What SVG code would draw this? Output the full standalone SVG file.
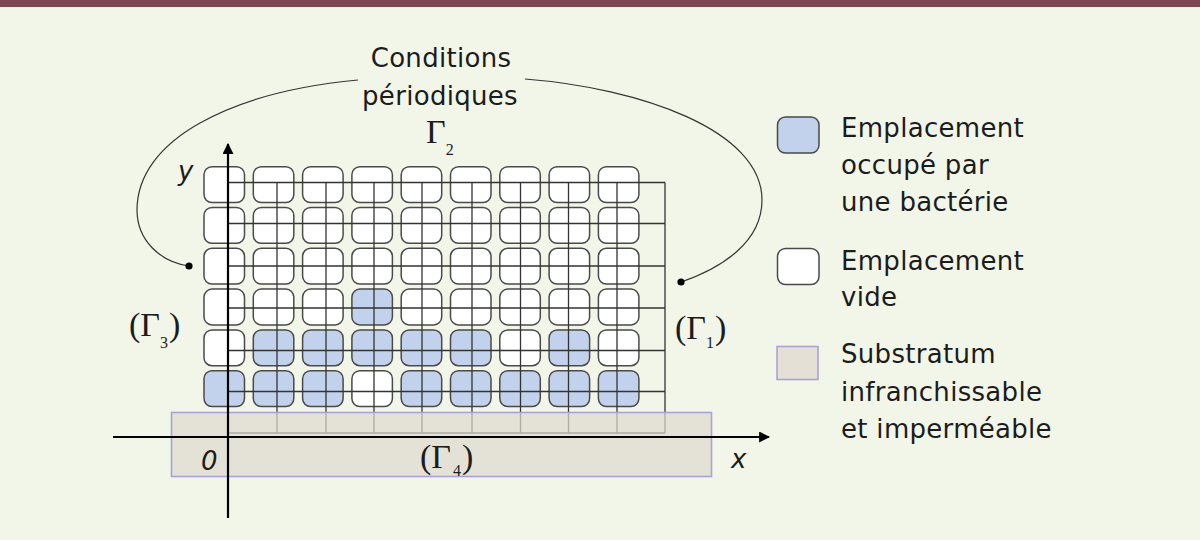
<svg xmlns="http://www.w3.org/2000/svg" width="1200" height="540" viewBox="0 0 1200 540">
<defs>
<style>
.cell{stroke:#4a4a4a;stroke-width:1.5;fill:#ffffff}
.occ{fill:#c2d2ec}
.grid{stroke:#333;stroke-width:1.3;fill:none}
.axis{stroke:#000;stroke-width:2.2;fill:none}
.curve{stroke:#333;stroke-width:1.2;fill:none}
.lbl{font-family:"DejaVu Sans",sans-serif;font-size:26px;fill:#1c1c1c;letter-spacing:0.3px}
.it{font-family:"DejaVu Sans",sans-serif;font-style:italic;font-size:26px;fill:#1c1c1c}
.gam{font-family:"Liberation Serif",serif;font-size:34px;fill:#1c1c1c}
.sub{font-family:"Liberation Serif",serif;font-size:16px;fill:#1c1c1c}
.subst{fill:#dedace;fill-opacity:0.72;stroke:#a9a2d6;stroke-width:1.6}
</style>
<marker id="arr" viewBox="0 0 10 10" refX="9" refY="5" markerWidth="5" markerHeight="5" orient="auto" markerUnits="strokeWidth">
<path d="M0,0 L10,5 L0,10 z" fill="#000"/>
</marker>
</defs>
<rect x="0" y="0" width="1200" height="540" fill="#f2f6e9"/>
<rect x="0" y="0" width="1200" height="7" fill="#7d4854"/>

<g id="cells">
<!-- row 1 -->
<rect class="cell" x="204" y="166.7" width="40.5" height="35.8" rx="8"/>
<rect class="cell" x="253.3" y="166.7" width="40.5" height="35.8" rx="8"/>
<rect class="cell" x="302.6" y="166.7" width="40.5" height="35.8" rx="8"/>
<rect class="cell" x="351.9" y="166.7" width="40.5" height="35.8" rx="8"/>
<rect class="cell" x="401.2" y="166.7" width="40.5" height="35.8" rx="8"/>
<rect class="cell" x="450.5" y="166.7" width="40.5" height="35.8" rx="8"/>
<rect class="cell" x="499.8" y="166.7" width="40.5" height="35.8" rx="8"/>
<rect class="cell" x="549.1" y="166.7" width="40.5" height="35.8" rx="8"/>
<rect class="cell" x="598.4" y="166.7" width="40.5" height="35.8" rx="8"/>
<!-- row 2 -->
<rect class="cell" x="204" y="207.5" width="40.5" height="35.8" rx="8"/>
<rect class="cell" x="253.3" y="207.5" width="40.5" height="35.8" rx="8"/>
<rect class="cell" x="302.6" y="207.5" width="40.5" height="35.8" rx="8"/>
<rect class="cell" x="351.9" y="207.5" width="40.5" height="35.8" rx="8"/>
<rect class="cell" x="401.2" y="207.5" width="40.5" height="35.8" rx="8"/>
<rect class="cell" x="450.5" y="207.5" width="40.5" height="35.8" rx="8"/>
<rect class="cell" x="499.8" y="207.5" width="40.5" height="35.8" rx="8"/>
<rect class="cell" x="549.1" y="207.5" width="40.5" height="35.8" rx="8"/>
<rect class="cell" x="598.4" y="207.5" width="40.5" height="35.8" rx="8"/>
<!-- row 3 -->
<rect class="cell" x="204" y="248.3" width="40.5" height="35.8" rx="8"/>
<rect class="cell" x="253.3" y="248.3" width="40.5" height="35.8" rx="8"/>
<rect class="cell" x="302.6" y="248.3" width="40.5" height="35.8" rx="8"/>
<rect class="cell" x="351.9" y="248.3" width="40.5" height="35.8" rx="8"/>
<rect class="cell" x="401.2" y="248.3" width="40.5" height="35.8" rx="8"/>
<rect class="cell" x="450.5" y="248.3" width="40.5" height="35.8" rx="8"/>
<rect class="cell" x="499.8" y="248.3" width="40.5" height="35.8" rx="8"/>
<rect class="cell" x="549.1" y="248.3" width="40.5" height="35.8" rx="8"/>
<rect class="cell" x="598.4" y="248.3" width="40.5" height="35.8" rx="8"/>
<!-- row 4 -->
<rect class="cell" x="204" y="289.1" width="40.5" height="35.8" rx="8"/>
<rect class="cell" x="253.3" y="289.1" width="40.5" height="35.8" rx="8"/>
<rect class="cell" x="302.6" y="289.1" width="40.5" height="35.8" rx="8"/>
<rect class="cell occ" x="351.9" y="289.1" width="40.5" height="35.8" rx="8"/>
<rect class="cell" x="401.2" y="289.1" width="40.5" height="35.8" rx="8"/>
<rect class="cell" x="450.5" y="289.1" width="40.5" height="35.8" rx="8"/>
<rect class="cell" x="499.8" y="289.1" width="40.5" height="35.8" rx="8"/>
<rect class="cell" x="549.1" y="289.1" width="40.5" height="35.8" rx="8"/>
<rect class="cell" x="598.4" y="289.1" width="40.5" height="35.8" rx="8"/>
<!-- row 5 -->
<rect class="cell" x="204" y="329.9" width="40.5" height="35.8" rx="8"/>
<rect class="cell occ" x="253.3" y="329.9" width="40.5" height="35.8" rx="8"/>
<rect class="cell occ" x="302.6" y="329.9" width="40.5" height="35.8" rx="8"/>
<rect class="cell occ" x="351.9" y="329.9" width="40.5" height="35.8" rx="8"/>
<rect class="cell occ" x="401.2" y="329.9" width="40.5" height="35.8" rx="8"/>
<rect class="cell occ" x="450.5" y="329.9" width="40.5" height="35.8" rx="8"/>
<rect class="cell" x="499.8" y="329.9" width="40.5" height="35.8" rx="8"/>
<rect class="cell occ" x="549.1" y="329.9" width="40.5" height="35.8" rx="8"/>
<rect class="cell" x="598.4" y="329.9" width="40.5" height="35.8" rx="8"/>
<!-- row 6 -->
<rect class="cell occ" x="204" y="370.7" width="40.5" height="35.8" rx="8"/>
<rect class="cell occ" x="253.3" y="370.7" width="40.5" height="35.8" rx="8"/>
<rect class="cell occ" x="302.6" y="370.7" width="40.5" height="35.8" rx="8"/>
<rect class="cell" x="351.9" y="370.7" width="40.5" height="35.8" rx="8"/>
<rect class="cell occ" x="401.2" y="370.7" width="40.5" height="35.8" rx="8"/>
<rect class="cell occ" x="450.5" y="370.7" width="40.5" height="35.8" rx="8"/>
<rect class="cell occ" x="499.8" y="370.7" width="40.5" height="35.8" rx="8"/>
<rect class="cell occ" x="549.1" y="370.7" width="40.5" height="35.8" rx="8"/>
<rect class="cell occ" x="598.4" y="370.7" width="40.5" height="35.8" rx="8"/>
</g>

<g id="grid" class="grid">
<path d="M228,182.5H665 M228,223.5H665 M228,266H665 M228,308H665 M228,350.5H665 M228,391.5H665 M228,433H665"/>
<path d="M277,182.5V433 M326,182.5V433 M374,182.5V433 M422,182.5V433 M472,182.5V433 M520.5,182.5V433 M568.5,182.5V433 M617,182.5V433 M665,182.5V433"/>
</g>

<g id="substratum">
<rect class="subst" x="171.5" y="412.5" width="540" height="64"/>
</g>

<g id="axes">
<line class="axis" x1="228" y1="518" x2="228" y2="144" marker-end="url(#arr)"/>
<line class="axis" x1="113" y1="437" x2="769" y2="437" marker-end="url(#arr)"/>
<text class="it" x="178" y="180">y</text>
<text class="it" x="731" y="468">x</text>
<text class="it" x="201" y="470">0</text>
</g>

<g id="connectors">
<path class="curve" d="M358,80 C230,92 137,140 137,210 C137,240 160,262 189,266"/>
<path class="curve" d="M525,79 C640,88 762,130 762,200 C762,242 722,268 681,282"/>
<circle cx="189" cy="266" r="3.6" fill="#000"/>
<circle cx="681" cy="282" r="3.6" fill="#000"/>
</g>

<g id="title">
<text class="lbl" x="441" y="67" text-anchor="middle">Conditions</text>
<text class="lbl" x="440" y="105" text-anchor="middle">périodiques</text>
</g>

<g id="gamma2">
<text class="gam" x="426" y="143">Γ<tspan class="sub" dy="12">2</tspan></text>
</g>
<g id="gamma3">
<text class="gam" x="129" y="336">(Γ<tspan class="sub" dy="12">3</tspan><tspan dy="-12" dx="1">)</tspan></text>
</g>
<g id="gamma1">
<text class="gam" x="675" y="339">(Γ<tspan class="sub" dy="9">1</tspan><tspan dy="-9" dx="1">)</tspan></text>
</g>
<g id="gamma4">
<text class="gam" x="420" y="468">(Γ<tspan class="sub" dy="8" dx="2">4</tspan><tspan dy="-8" dx="1">)</tspan></text>
</g>

<g id="legend-occupied">
<rect x="777.5" y="117" width="41.5" height="36" rx="8" fill="#c2d2ec" stroke="#4a4a4a" stroke-width="1.5"/>
<text class="lbl" x="841" y="137">Emplacement</text>
<text class="lbl" x="841" y="174">occupé par</text>
<text class="lbl" x="841" y="211">une bactérie</text>
</g>
<g id="legend-empty">
<rect x="777.5" y="248.5" width="41.5" height="36" rx="8" fill="#ffffff" stroke="#4a4a4a" stroke-width="1.5"/>
<text class="lbl" x="841" y="270">Emplacement</text>
<text class="lbl" x="841" y="306">vide</text>
</g>
<g id="legend-substratum">
<rect x="777" y="346.5" width="41" height="33" fill="#e4e0d6" stroke="#a9a2d6" stroke-width="1.6"/>
<text class="lbl" x="841" y="363">Substratum</text>
<text class="lbl" x="841" y="401">infranchissable</text>
<text class="lbl" x="841" y="438">et imperméable</text>
</g>
</svg>
